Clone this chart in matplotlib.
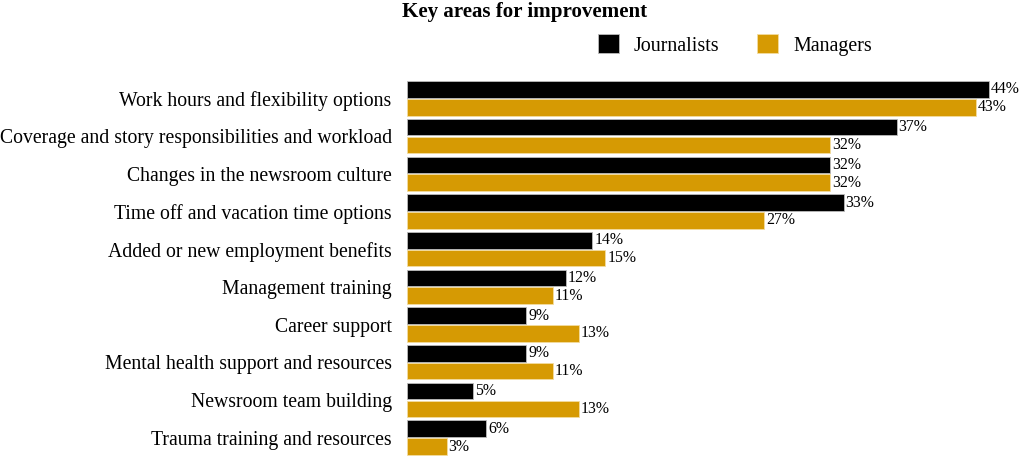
import matplotlib.pyplot as plt
from matplotlib.patches import Patch
import numpy as np

categories = [
    "Work hours and flexibility options",
    "Coverage and story responsibilities and workload",
    "Changes in the newsroom culture",
    "Time off and vacation time options",
    "Added or new employment benefits",
    "Management training",
    "Career support",
    "Mental health support and resources",
    "Newsroom team building",
    "Trauma training and resources",
]
journalists = [44, 37, 32, 33, 14, 12, 9, 9, 5, 6]
managers = [43, 32, 32, 27, 15, 11, 13, 11, 13, 3]

black = "#000000"
gold = "#D69A03"

plt.rcParams['font.family'] = ['Liberation Serif', 'DejaVu Serif']

fig = plt.figure(figsize=(10.24, 4.58), dpi=100)
ax = fig.add_axes([407 / 1024, 1 - 456.5 / 458, 603 / 1024, 377 / 458])

y = np.arange(len(categories))
h = 0.44
off = 0.235
ax.barh(y - off, journalists, height=h, color=black, edgecolor="#bbbbbb", linewidth=0.6)
ax.barh(y + off, managers, height=h, color=gold, edgecolor="#f3dca0", linewidth=0.6)

for yi, v in zip(y, journalists):
    ax.text(v + 0.15, yi - off, f"{v}%", va="center", ha="left", fontsize=11.3)
for yi, v in zip(y, managers):
    ax.text(v + 0.15, yi + off, f"{v}%", va="center", ha="left", fontsize=11.3)

ax.set_xlim(0, 603 / 13.23)
ax.set_ylim(len(categories) - 0.5, -0.5)
ax.set_yticks(y)
ax.set_yticklabels(categories, fontsize=14.2)
ax.tick_params(axis="y", length=0, pad=11)
ax.set_xticks([])
for s in ax.spines.values():
    s.set_visible(False)

fig.text(525 / 1024, 1 - 12 / 458, "Key areas for improvement", ha="center", va="center",
         fontsize=15.1, fontweight="bold")

handles = [Patch(facecolor=black, edgecolor="#bbbbbb", linewidth=0.6),
           Patch(facecolor=gold, edgecolor="#f3dca0", linewidth=0.6)]
fig.legend(handles, ["Journalists", "Managers"], loc="center", ncol=2, frameon=False,
           bbox_to_anchor=(735 / 1024, 1 - 45 / 458), fontsize=14.4,
           handlelength=1.05, handleheight=1.05, handletextpad=0.75, columnspacing=1.9)

fig.savefig("out.png", dpi=100)
